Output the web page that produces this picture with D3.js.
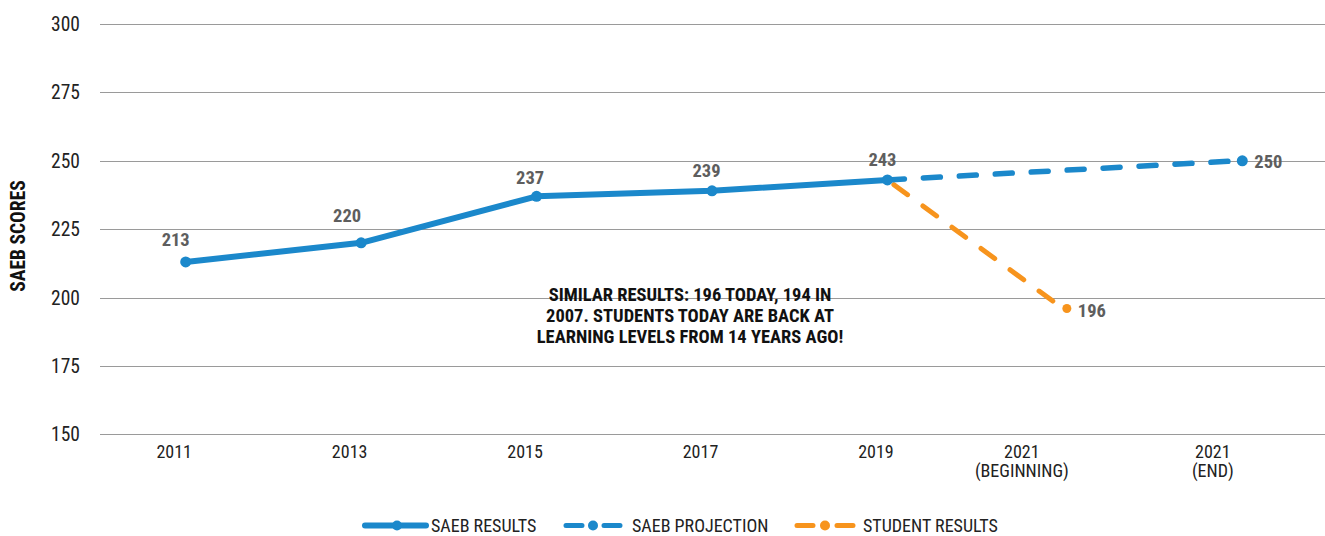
<!DOCTYPE html>
<html>
<head>
<meta charset="utf-8">
<script src="https://cdn.jsdelivr.net/npm/d3@7/dist/d3.min.js"></script>
<style>
  html, body { margin: 0; padding: 0; background: #fff; }
  svg { display: block; }
  text { font-family: "Liberation Sans Narrow", "Roboto Condensed", "Arial Narrow", sans-serif; font-stretch: condensed; }
</style>
</head>
<body>
<svg id="chart" width="1325" height="536"></svg>
<script>
// ---------- DATA ----------
const categories = ["2011", "2013", "2015", "2017", "2019", "2021B", "2021E"];
const tickLabels = [["2011"], ["2013"], ["2015"], ["2017"], ["2019"], ["2021", "(BEGINNING)"], ["2021", "(END)"]];
const saebResults = [213, 220, 237, 239, 243];
const saebResultsCats = ["2011", "2013", "2015", "2017", "2019"];
const saebProjection = [243, 250];
const saebProjectionCats = ["2019", "2021E"];
const studentResults = [243, 196];
const studentResultsCats = ["2019", "2021B"];
const yTicks = [150, 175, 200, 225, 250, 275, 300];
const legendLabels = ["SAEB RESULTS", "SAEB PROJECTION", "STUDENT RESULTS"];
const annotationLines = ["SIMILAR RESULTS: 196 TODAY, 194 IN", "2007. STUDENTS TODAY ARE BACK AT", "LEARNING LEVELS FROM 14 YEARS AGO!"];
const yTitle = "SAEB SCORES";

// ---------- LAYOUT ----------
const BLUE = "#1b88cb", ORANGE = "#f7941d", LABEL = "#5e5e5e";
const svg = d3.select("#chart");
const x = d3.scaleBand().domain(categories).range([98, 1326]);
const xc = c => x(c) + x.bandwidth() / 2;
const y = d3.scaleLinear().domain([150, 300]).range([434.3, 24]);

// gridlines
svg.append("g").selectAll("line").data(yTicks).join("line")
  .attr("x1", 100).attr("x2", 1325)
  .attr("y1", d => Math.round(y(d)) + 0.5).attr("y2", d => Math.round(y(d)) + 0.5)
  .attr("stroke", "#9a9a9a").attr("stroke-width", 1);

// y axis labels
svg.append("g").selectAll("text").data(yTicks).join("text")
  .attr("x", 80).attr("y", d => y(d)).attr("dy", "0.36em")
  .attr("text-anchor", "end").attr("font-size", 19.5).attr("fill", "#222")
  .text(d => d);

// y title
svg.append("text")
  .attr("transform", "translate(25,236) rotate(-90)")
  .attr("text-anchor", "middle").attr("font-size", 19.5).attr("font-weight", "bold").attr("fill", "#111")
  .text(yTitle);

// x tick labels
const tickDx = [-11.5, -11.5, -11.5, -11.5, -11.5, -41, -25.5];
const xt = svg.append("g").selectAll("text").data(categories).join("text")
  .attr("x", (d, i) => xc(d) + tickDx[i]).attr("y", 458)
  .attr("text-anchor", "middle").attr("font-size", 18).attr("fill", "#222");
xt.each(function(d, i) {
  d3.select(this).selectAll("tspan").data(tickLabels[i]).join("tspan")
    .attr("x", xc(d) + tickDx[i]).attr("dy", (t, j) => j === 0 ? 0 : 19).text(t => t);
});

const line = d3.line().x(d => xc(d.c)).y(d => y(d.v));
const zip = (cats, vals) => cats.map((c, i) => ({ c, v: vals[i] }));

// student results (orange dashed)
const stud = zip(studentResultsCats, studentResults);
svg.append("path").datum(stud).attr("d", line)
  .attr("fill", "none").attr("stroke", ORANGE).attr("stroke-width", 5)
  .attr("stroke-dasharray", "17 19").attr("stroke-linecap", "round").attr("stroke-dashoffset", -8);
svg.append("circle").attr("cx", xc(stud[1].c) + 4).attr("cy", y(stud[1].v)).attr("r", 4.5).attr("fill", ORANGE);

// projection (blue dashed)
const proj = zip(saebProjectionCats, saebProjection);
svg.append("path").datum(proj).attr("d", line)
  .attr("fill", "none").attr("stroke", BLUE).attr("stroke-width", 5.5)
  .attr("stroke-dasharray", "17 19").attr("stroke-linecap", "round").attr("stroke-dashoffset", 0);
svg.append("circle").attr("cx", xc(proj[1].c) + 4).attr("cy", y(proj[1].v)).attr("r", 5.5).attr("fill", BLUE);

// SAEB results (solid)
const res = zip(saebResultsCats, saebResults);
svg.append("path").datum(res).attr("d", line)
  .attr("fill", "none").attr("stroke", BLUE).attr("stroke-width", 6).attr("stroke-linejoin", "round");
svg.append("g").selectAll("circle").data(res).join("circle")
  .attr("cx", d => xc(d.c)).attr("cy", d => y(d.v)).attr("r", 5.5).attr("fill", BLUE);

// data labels
const resLabelOff = [[-10, -15.5], [-14, -20.5], [-6.5, -12.5], [-5.5, -14], [-5, -14]];
svg.append("g").selectAll("text").data(res).join("text")
  .attr("x", (d, i) => xc(d.c) + resLabelOff[i][0]).attr("y", (d, i) => y(d.v) + resLabelOff[i][1])
  .attr("text-anchor", "middle").attr("font-size", 18.5).attr("font-weight", "bold").attr("fill", LABEL)
  .text(d => d.v);
svg.append("text").attr("x", xc(stud[1].c) + 15).attr("y", y(stud[1].v) + 9)
  .attr("font-size", 18.5).attr("font-weight", "bold").attr("fill", LABEL).text(stud[1].v);
svg.append("text").attr("x", xc(proj[1].c) + 16).attr("y", y(proj[1].v) + 7.5)
  .attr("font-size", 18.5).attr("font-weight", "bold").attr("fill", LABEL).text(proj[1].v);

// annotation
svg.append("g").selectAll("text").data(annotationLines).join("text")
  .attr("x", 690).attr("y", (d, i) => 300.7 + i * 21.2)
  .attr("text-anchor", "middle").attr("font-size", 18.5).attr("font-weight", "bold").attr("fill", "#111")
  .text(d => d);

// legend
const lg = svg.append("g");
const ly = 525.5;
const legendItems = [
  { x1: 365, x2: 426, dot: 397, text: 431, color: BLUE, dash: null, w: 6 },
  { x1: 566, x2: 620, dot: 593, text: 632, color: BLUE, dash: "16 22", w: 5 },
  { x1: 797, x2: 853, dot: 825, text: 863, color: ORANGE, dash: "16 24", w: 5 }
];
legendItems.forEach((it, i) => {
  lg.append("line").attr("x1", it.x1).attr("x2", it.x2).attr("y1", ly).attr("y2", ly)
    .attr("stroke", it.color).attr("stroke-width", it.w).attr("stroke-linecap", "round")
    .attr("stroke-dasharray", it.dash);
  lg.append("circle").attr("cx", it.dot).attr("cy", ly).attr("r", 5).attr("fill", it.color);
  lg.append("text").attr("x", it.text).attr("y", ly).attr("dy", "0.34em")
    .attr("font-size", 18).attr("fill", "#222").text(legendLabels[i]);
});
</script>
</body>
</html>
